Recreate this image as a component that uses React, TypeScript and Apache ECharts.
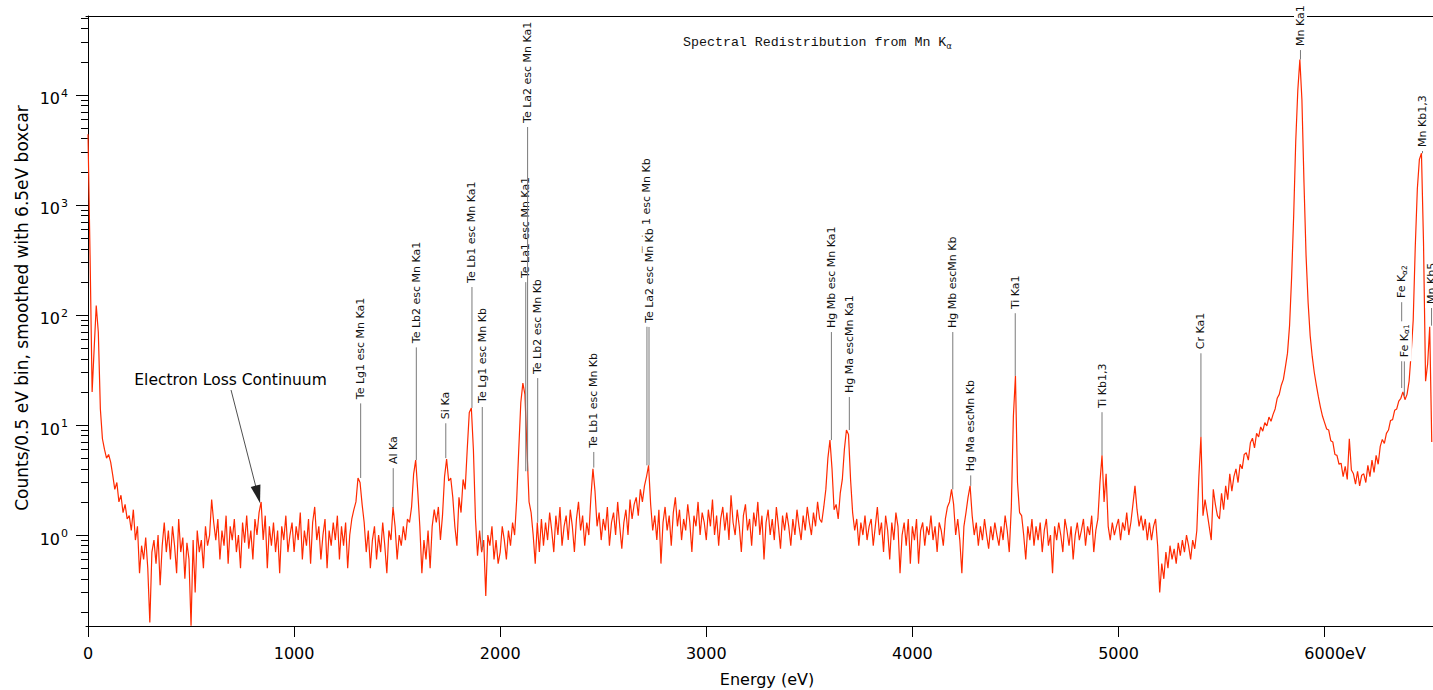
import React, { useEffect, useRef } from 'react';
import * as echarts from 'echarts';

// ---- spectrum (counts per 0.5 eV bin), sampled every 10 eV from 0 eV ----
const energyStart = 0;
const energyStep = 10;

// 0 – 990 eV
const countsA = [
  4400, 350, 20, 50, 122, 70, 14, 7.5, 6.0, 5.0, 5.4, 4.6, 3.5, 2.6, 3.0, 2.0, 2.3, 1.6, 1.9, 1.4,
  1.5, 1.1, 1.7, 0.9, 1.2, 0.45, 0.8, 0.6, 0.95, 0.5, 0.16, 0.7, 0.9, 0.55, 1.0, 0.35, 0.8, 1.3, 0.7, 1.1,
  0.6, 1.2, 0.8, 0.45, 1.4, 0.7, 0.95, 0.4, 0.85, 0.6, 0.15, 0.9, 0.3, 1.1, 0.7, 0.9, 0.5, 1.2, 0.8, 1.0,
  2.1, 1.3, 0.9, 1.4, 0.6, 1.1, 0.8, 1.5, 0.55, 1.2, 0.9, 1.4, 0.7, 1.0, 0.5, 1.3, 0.85, 1.5, 0.75, 1.1,
  0.6, 1.4, 1.0, 1.6, 2.0, 0.9, 1.5, 0.5, 1.2, 0.8, 1.3, 0.7, 1.1, 0.45, 1.2, 0.9, 1.5, 0.7, 1.0, 1.3,
];
// 1000 – 1990 eV
const countsB = [
  0.7, 1.2, 0.9, 1.6, 0.6, 1.1, 0.8, 1.4, 0.55, 1.3, 1.8, 0.9, 1.2, 0.6, 1.0, 1.4, 0.5, 1.1, 0.8, 1.3,
  0.9, 1.5, 0.6, 1.2, 0.8, 1.3, 0.5, 1.0, 1.4, 1.7, 2.0, 3.3, 3.0, 1.9, 1.3, 0.7, 1.1, 0.5, 0.9, 1.2,
  0.6, 1.0, 0.7, 1.3, 0.8, 0.45, 1.1, 0.9, 1.8, 1.2, 0.6, 1.0, 0.8, 1.2, 0.9, 1.4, 1.3, 1.8, 3.6, 4.8,
  2.5, 1.2, 0.45, 0.9, 0.6, 1.1, 0.5, 1.2, 1.7, 1.3, 1.8, 0.9, 1.5, 3.4, 4.9, 3.1, 3.3, 2.2, 1.2, 0.8,
  2.2, 1.6, 3.2, 2.6, 6.0, 13, 14.3, 6.0, 1.4, 0.65, 1.1, 0.7, 0.9, 0.28, 1.0, 0.8, 1.2, 0.6, 0.9, 0.55,
];
// 2000 – 2990 eV
const countsC = [
  0.7, 1.2, 0.9, 0.6, 1.1, 0.8, 1.3, 1.0, 2.1, 6.0, 16, 24, 19, 6.0, 2.0, 1.6, 1.0, 0.55, 1.3, 0.7,
  1.4, 0.8, 1.3, 0.9, 1.6, 1.1, 0.7, 1.5, 1.0, 1.8, 0.8, 1.2, 1.5, 0.9, 1.7, 1.2, 0.7, 1.4, 2.0, 1.1,
  1.5, 0.8, 1.3, 1.0, 2.2, 4.0, 2.5, 1.2, 1.6, 0.9, 1.4, 1.1, 1.8, 0.8, 1.3, 1.6, 1.0, 2.0, 1.2, 0.75,
  1.3, 1.7, 1.0, 2.1, 1.4, 1.9, 2.2, 1.5, 2.6, 2.0, 2.8, 3.4, 4.3, 1.9, 1.1, 1.5, 0.9, 1.7, 0.55, 1.3,
  1.8, 1.1, 1.5, 0.8, 1.6, 2.2, 1.2, 1.7, 0.9, 1.4, 1.1, 1.9, 1.3, 0.7, 1.5, 1.2, 2.0, 1.0, 1.6, 1.3,
];
// 3000 – 3990 eV
const countsD = [
  0.9, 1.7, 1.2, 2.1, 1.0, 1.5, 0.8, 1.4, 1.8, 1.1, 1.6, 0.9, 2.3, 1.3, 1.0, 1.7, 1.2, 0.7, 1.5, 1.9,
  1.1, 1.4, 0.8, 1.6, 1.2, 2.0, 1.0, 1.5, 0.6, 1.3, 1.7, 1.0, 1.4, 0.9, 1.8, 1.2, 0.75, 1.5, 1.1, 1.6,
  1.2, 0.8, 1.4, 1.0, 1.7, 1.2, 0.9, 1.5, 1.1, 1.8, 1.3, 1.0, 1.6, 1.2, 2.0, 1.4, 1.3, 1.8, 2.6, 5.0,
  7.3, 4.0, 1.7, 1.9, 1.4, 2.4, 3.2, 6.0, 9.0, 8.2, 3.2, 1.6, 1.1, 1.4, 0.8, 1.3, 1.0, 1.5, 0.9, 1.2,
  1.4, 0.8, 1.2, 1.8, 1.0, 1.3, 0.7, 1.5, 1.1, 0.6, 1.3, 0.9, 1.6, 1.2, 0.45, 1.0, 1.3, 0.8, 1.4, 0.55,
];
// 4000 – 4990 eV
const countsE = [
  1.2, 0.9, 1.4, 0.55, 1.1, 1.3, 0.8, 1.2, 1.0, 1.5, 0.9, 1.2, 0.7, 1.3, 1.1, 0.8, 1.4, 1.8, 2.0, 2.6,
  1.9, 1.0, 1.4, 0.9, 0.45, 1.2, 1.6, 2.2, 2.8, 1.5, 1.0, 1.3, 0.8, 1.2, 0.9, 1.4, 1.0, 0.75, 1.2, 0.9,
  1.3, 1.0, 0.8, 1.2, 0.9, 1.5, 1.1, 0.7, 1.8, 12, 28, 3.0, 1.6, 1.5, 1.0, 0.6, 1.2, 0.9, 1.4, 0.8,
  1.2, 0.9, 1.3, 0.7, 1.1, 1.4, 0.8, 1.0, 0.45, 1.2, 0.9, 1.3, 1.0, 0.7, 1.4, 1.1, 0.8, 1.2, 0.6, 1.0,
  1.3, 0.9, 1.1, 1.4, 0.8, 1.2, 1.0, 1.5, 0.7, 1.1, 1.4, 3.0, 5.3, 2.0, 3.6, 1.2, 0.9, 1.3, 1.0, 1.2,
];
// 5000 – 5990 eV
const countsF = [
  1.4, 0.9, 1.3, 1.1, 1.6, 1.0, 1.3, 1.9, 2.8, 1.7, 1.2, 1.5, 1.1, 1.4, 0.9, 1.3, 0.9, 1.2, 1.4, 0.8,
  0.3, 0.55, 0.4, 0.7, 0.5, 0.8, 0.6, 0.75, 0.55, 0.85, 0.65, 0.9, 0.7, 1.0, 0.8, 0.6, 0.9, 0.75, 1.1, 3.4,
  7.8, 1.5, 2.1, 1.6, 1.2, 0.9, 2.6, 1.9, 1.5, 1.4, 2.4, 1.7, 2.8, 2.1, 3.6, 2.5, 3.4, 4.0, 3.0, 4.4,
  4.0, 5.4, 5.6, 4.8, 6.9, 7.6, 6.2, 8.4, 7.8, 9.6, 8.8, 10.5, 9.8, 11.8, 10.8, 12.5, 14, 17.5, 19, 23,
  26, 34, 45, 80, 220, 800, 3800, 11000, 21000, 9000, 1600, 350, 130, 65, 42, 30, 23, 18, 14.5, 12,
];
// 6000 – 6520 eV
const countsG = [
  10.5, 9.2, 9.0, 7.2, 7.0, 5.4, 5.3, 4.4, 4.5, 3.4, 4.2, 3.2, 7.5, 3.9, 3.6, 2.9, 3.8, 2.8, 3.5, 3.6,
  3.0, 4.3, 3.4, 4.8, 3.7, 5.3, 4.4, 6.4, 7.4, 6.8, 8.4, 9.0, 11, 11.2, 13.6, 14, 16.5, 17.5, 20, 17,
  19, 25, 45, 90, 420, 1400, 2600, 2950, 450, 25, 36, 78, 7,
];

// ---- axes ----
const xTicks = [0, 1000, 2000, 3000, 4000, 5000, 6000];
const yMajorTicks = [1, 10, 100, 1000, 10000];
const yMinorTicks = [
  0.2, 0.3, 0.4, 0.5, 0.6, 0.7, 0.8, 0.9,
  2, 3, 4, 5, 6, 7, 8, 9,
  20, 30, 40, 50, 60, 70, 80, 90,
  200, 300, 400, 500, 600, 700, 800, 900,
  2000, 3000, 4000, 5000, 6000, 7000, 8000, 9000,
  20000, 30000, 40000, 50000,
];

// ---- peak identifications ----
const peakLabels = [
  'Te Lg1 esc Mn Ka1', 'Al Ka', 'Te Lb2 esc Mn Ka1', 'Si Ka', 'Te Lb1 esc Mn Ka1', 'Te Lg1 esc Mn Kb',
  'Te La1 esc Mn Ka1', 'Te La2 esc Mn Ka1', 'Te Lb2 esc Mn Kb', 'Te Lb1 esc Mn Kb',
  'Te La1 esc Mn Kb', 'Te La2 esc Mn Kb',
  'Hg Mb esc Mn Ka1', 'Hg Ma escMn Ka1', 'Hg Mb escMn Kb', 'Hg Ma escMn Kb',
  'Ti Ka1', 'Ti Kb1,3', 'Cr Ka1', 'Mn Ka1',
  'Fe K{sub|α2}', 'Fe K{sub|α1}', 'Mn Kb1,3', 'Mn Kb5',
];
const peakEnergies = [
  1323, 1481, 1593, 1736, 1863, 1913,
  2124, 2133, 2182, 2454,
  2712, 2722,
  3607, 3694, 4196, 4283,
  4499, 4920, 5400, 5883,
  6374, 6387, 6475, 6519,
];
const peakValues = [
  3.3, 1.76, 4.8, 5.0, 14.3, 0.73,
  3.8, 3.8, 1.3, 4.1,
  4.3, 4.3,
  7.3, 9.0, 2.6, 2.8,
  28, 5.3, 7.8, 21000,
  21.7, 18.4, 2950, 80,
];
// axis value at which each leader line meets its label
const labelAnchors = [
  15.8, 4.06, 51, 10.4, 180, 14.6,
  199, 5120, 26.7, 5.7,
  337, 78,
  70, 18, 70, 3.5,
  104, 13.1, 45, 25600,
  131, 38, 3100, 116,
];

// "Electron Loss Continuum" pointer (energy, counts)
const arrowFrom = [694, 20.8];
const arrowTo = [824, 2.34];

const FONT = 'DejaVu Sans';

export default function App() {
  const ref = useRef<HTMLDivElement>(null);

  useEffect(() => {
    if (!ref.current) return;
    const chart = echarts.init(ref.current, null, { renderer: 'svg' });
    const counts = [...countsA, ...countsB, ...countsC, ...countsD, ...countsE, ...countsF, ...countsG];
    const spectrum = counts.map((c, i) => [energyStart + i * energyStep, c]);
    const peaks = peakEnergies.map((e, i) => [e, peakValues[i], labelAnchors[i]]);

    const xMin = -9.7;
    const xMax = 6526;
    const yMin = 0.149;
    const yMax = 52200;

    chart.setOption({
      animation: false,
      title: {
        text: 'Spectral Redistribution from Mn K{sub|α}',
        left: 683,
        top: 34,
        padding: 0,
        textStyle: {
          fontFamily: 'Liberation Mono',
          fontSize: 13.3,
          fontWeight: 'normal',
          color: '#111',
          rich: {
            sub: { fontFamily: FONT, fontSize: 8.5, padding: [7, 0, 0, 0], color: '#111' },
          },
        },
      },
      grid: { left: 86, right: 0, top: 16, bottom: 64 },
      xAxis: [
        {
          type: 'value',
          min: xMin,
          max: xMax,
          position: 'bottom',
          splitLine: { show: false },
          axisLine: { show: true, lineStyle: { color: '#000', width: 1 } },
          axisTick: { show: true, customValues: xTicks, length: 11, lineStyle: { color: '#000' } },
          axisLabel: {
            customValues: xTicks,
            margin: 19,
            color: '#000',
            fontFamily: FONT,
            fontSize: 16,
            formatter: (v: number) => (v === 6000 ? '{pad|}6000eV' : String(v)),
            rich: { pad: { width: 21 } },
          },
        },
        {
          type: 'value',
          min: xMin,
          max: xMax,
          position: 'top',
          splitLine: { show: false },
          axisLine: { show: true, lineStyle: { color: '#000', width: 1 } },
          axisTick: { show: false },
          axisLabel: { show: false },
        },
      ],
      yAxis: [
        {
          type: 'log',
          min: yMin,
          max: yMax,
          splitLine: { show: false },
          axisLine: { show: true, lineStyle: { color: '#000', width: 1 } },
          axisTick: { show: true, customValues: yMajorTicks, length: 12, lineStyle: { color: '#000' } },
          axisLabel: {
            customValues: yMajorTicks,
            margin: 18,
            color: '#000',
            fontFamily: FONT,
            fontSize: 16,
            padding: [8, 0, 0, 0],
            formatter: (v: number) => '10{sup|' + Math.round(Math.log10(v)) + '}',
            rich: { sup: { fontFamily: FONT, fontSize: 11, padding: [0, 0, 11, 1], color: '#000' } },
          },
        },
        {
          type: 'log',
          min: yMin,
          max: yMax,
          position: 'left',
          splitLine: { show: false },
          axisLine: { show: false },
          axisTick: { show: true, customValues: yMinorTicks, length: 7, lineStyle: { color: '#000' } },
          axisLabel: { show: false },
        },
      ],
      graphic: [
        {
          type: 'text',
          x: 767,
          y: 679,
          style: { text: 'Energy (eV)', fontFamily: FONT, fontSize: 16, fill: '#000', align: 'center', verticalAlign: 'middle' },
        },
        {
          type: 'text',
          x: 22,
          y: 308,
          rotation: Math.PI / 2,
          style: {
            text: 'Counts/0.5 eV bin, smoothed with 6.5eV boxcar',
            fontFamily: FONT,
            fontSize: 17,
            fill: '#000',
            align: 'center',
            verticalAlign: 'middle',
          },
        },
      ],
      series: [
        {
          type: 'line',
          xAxisIndex: 0,
          yAxisIndex: 0,
          data: spectrum,
          showSymbol: false,
          symbol: 'none',
          z: 2,
          lineStyle: { color: '#ff2a00', width: 1.2 },
          itemStyle: { color: '#ff2a00' },
          emphasis: { disabled: true },
          markLine: {
            silent: true,
            symbol: ['none', 'triangle'],
            symbolSize: [10, 18],
            lineStyle: { color: '#222', width: 0.8, type: 'solid' },
            itemStyle: { color: '#000' },
            label: {
              show: true,
              position: 'start',
              distance: 2,
              formatter: 'Electron Loss Continuum',
              color: '#000',
              fontFamily: FONT,
              fontSize: 15.5,
            },
            data: [[{ coord: arrowFrom }, { coord: arrowTo }]],
          },
        },
        {
          type: 'custom',
          xAxisIndex: 0,
          yAxisIndex: 0,
          z: 5,
          clip: false,
          silent: true,
          data: peaks,
          renderItem: (params: any, api: any) => {
            const i = params.dataIndex;
            const base = api.coord([api.value(0), api.value(1)]);
            const top = api.coord([api.value(0), api.value(2)]);
            return {
              type: 'group',
              children: [
                {
                  type: 'line',
                  shape: { x1: base[0], y1: base[1], x2: top[0], y2: top[1] },
                  style: { stroke: '#7a7a7a', lineWidth: 1 },
                },
                {
                  type: 'text',
                  x: top[0],
                  y: top[1],
                  rotation: Math.PI / 2,
                  style: {
                    text: peakLabels[i],
                    fill: '#111',
                    fontFamily: FONT,
                    fontSize: 11,
                    align: 'left',
                    verticalAlign: 'middle',
                    backgroundColor: '#fff',
                    padding: [1, 3, 1, 4],
                    rich: {
                      sub: { fontFamily: FONT, fontSize: 7.5, fill: '#111', padding: [5, 0, 0, 0] },
                    },
                  },
                },
              ],
            };
          },
        },
      ],
    });

    return () => chart.dispose();
  }, []);

  return <div ref={ref} style={{ position: 'fixed', left: 0, top: 0, width: 1433, height: 690, background: '#fff' }} />;
}
